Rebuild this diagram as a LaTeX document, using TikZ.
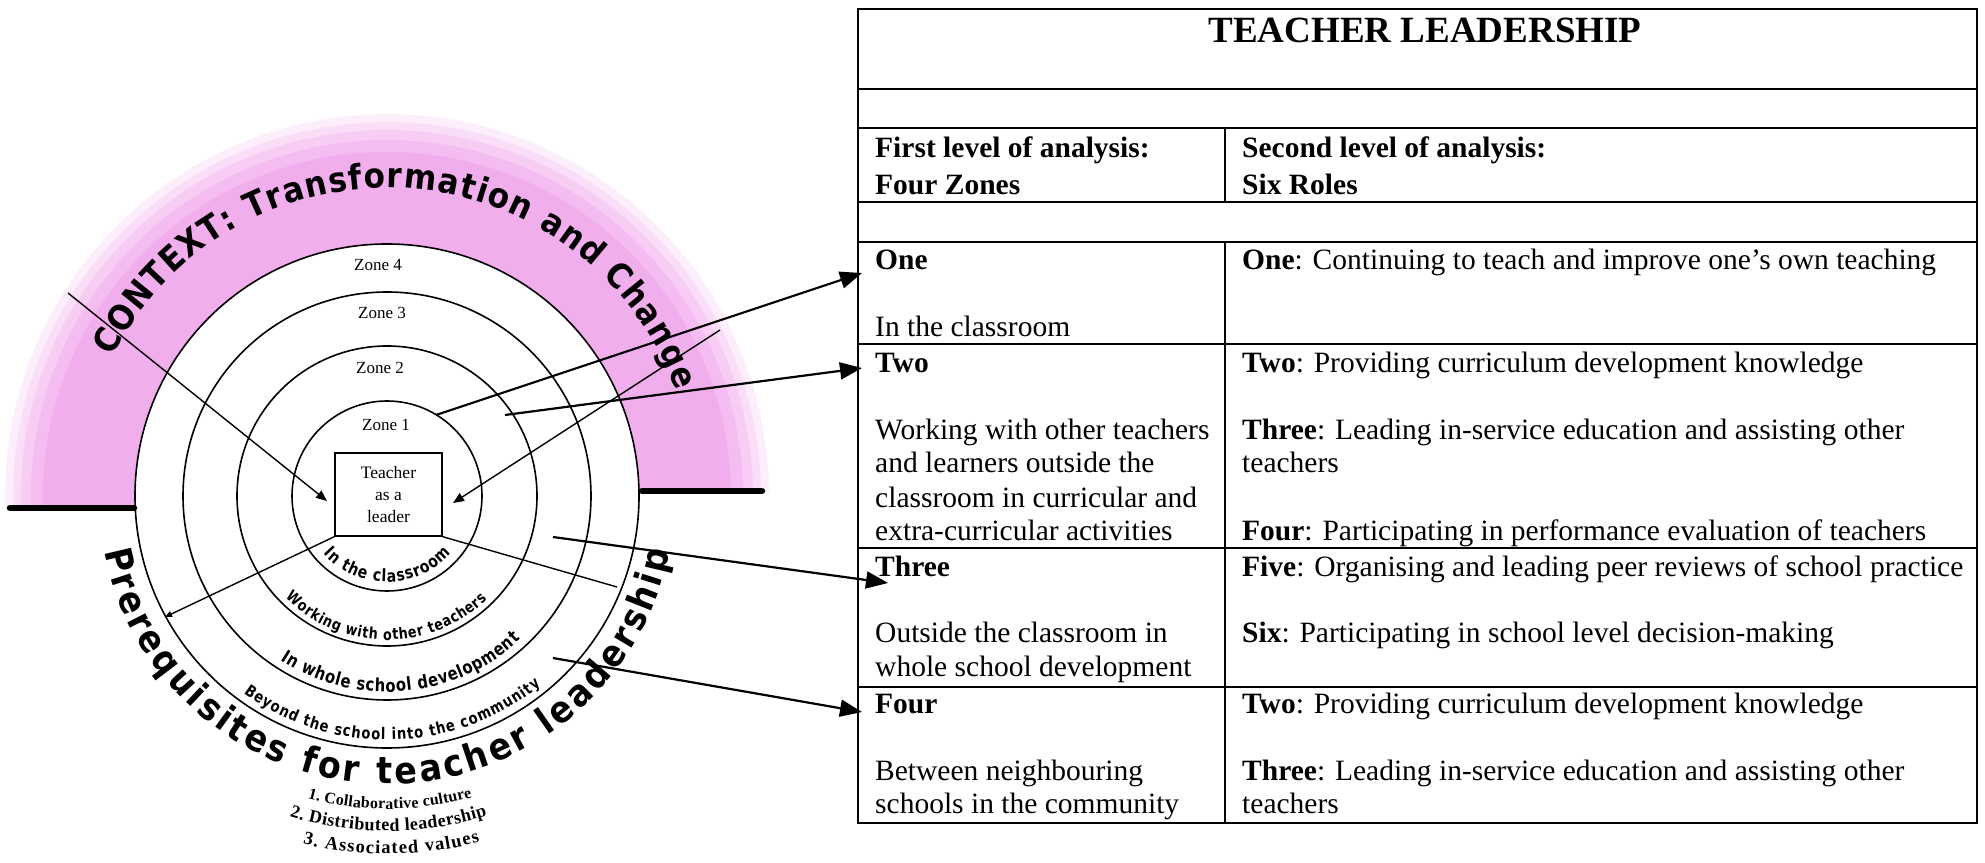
\documentclass[tikz,border=0pt]{standalone}
\usepackage{fontspec}
\setmainfont{Liberation Serif}
\newfontfamily\arcfont{DejaVu Sans}[FakeStretch=0.9]
\newfontfamily\ringfont{DejaVu Sans}[FakeStretch=0.82]
\usetikzlibrary{arrows.meta,decorations.text}
\definecolor{pinkA}{RGB}{253,238,252}
\definecolor{pinkB}{RGB}{250,222,248}
\definecolor{pinkC}{RGB}{247,205,244}
\definecolor{pinkD}{RGB}{244,188,240}
\definecolor{pinkE}{RGB}{241,174,236}
\begin{document}
\begin{tikzpicture}[x=1pt,y=1pt,
  tline/.style={line width=2pt},
  ring/.style={line width=1.6pt},
  bigarrow/.style={line width=2.2pt,-{Triangle[length=22pt,width=17pt]}},
  smallarrow/.style={line width=1.4pt,-{Triangle[length=11pt,width=9pt]}},
  tinyarrow/.style={line width=1.4pt,-{Triangle[length=7pt,width=6pt]}},
  plainline/.style={line width=1.4pt},
  cell/.style={anchor=base west,inner sep=0pt,font=\fontsize{29.5}{34}\selectfont},
  zonelabel/.style={font=\fontsize{17}{20}\selectfont,inner sep=0pt},
  thickbar/.style={line width=6.5pt,line cap=round},
]
\useasboundingbox (0,0) rectangle (1985,862);

% ---------------- table ----------------
\draw[tline] (858,39) rectangle (1977,853);
\foreach \yy in {773,734,660,620,518,314,175}{\draw[tline] (858,\yy) -- (1977,\yy);}
\draw[tline] (1225,734) -- (1225,660);
\draw[tline] (1225,620) -- (1225,39);

\node[anchor=base,inner sep=0pt,font=\bfseries\fontsize{37}{40}\selectfont] (title) at (1425,819) {TEACHER LEADERSHIP};

\node[cell] (l0a) at (875,704) {\textbf{First level of analysis:}};
\node[cell] (l0b) at (875,667) {\textbf{Four Zones}};
\node[cell] (l1a) at (875,592) {\textbf{One}};
\node[cell] (l1b) at (875,525) {In the classroom};
\node[cell] (l2a) at (875,489) {\textbf{Two}};
\node[cell] (l2b) at (875,422) {Working with other teachers};
\node[cell] (l2c) at (875,389) {and learners outside the};
\node[cell] (l2d) at (875,354) {classroom in curricular and};
\node[cell] (l2e) at (875,321) {extra-curricular activities};
\node[cell] (l3a) at (875,285) {\textbf{Three}};
\node[cell] (l3b) at (875,219) {Outside the classroom in};
\node[cell] (l3c) at (875,185) {whole school development};
\node[cell] (l4a) at (875,149) {\textbf{Four}};
\node[cell] (l4b) at (875,82) {Between neighbouring};
\node[cell] (l4c) at (875,49) {schools in the community};

\node[cell] (r0a) at (1242,704) {\textbf{Second level of analysis:}};
\node[cell] (r0b) at (1242,667) {\textbf{Six Roles}};
\node[cell] (r1a) at (1242,592) {\textbf{One}: Continuing to teach and improve one’s own teaching};
\node[cell] (r2a) at (1242,489) {\textbf{Two}: Providing curriculum development knowledge};
\node[cell] (r2b) at (1242,422) {\textbf{Three}: Leading in-service education and assisting other};
\node[cell] (r2c) at (1242,389) {teachers};
\node[cell] (r2d) at (1242,321) {\textbf{Four}: Participating in performance evaluation of teachers};
\node[cell] (r3a) at (1242,285) {\textbf{Five}: Organising and leading peer reviews of school practice};
\node[cell] (r3b) at (1242,219) {\textbf{Six}: Participating in school level decision-making};
\node[cell] (r4a) at (1242,149) {\textbf{Two}: Providing curriculum development knowledge};
\node[cell] (r4b) at (1242,82) {\textbf{Three}: Leading in-service education and assisting other};
\node[cell] (r4c) at (1242,49) {teachers};

% ---------------- circle diagram ----------------
\begin{scope}[shift={(387,366)}]
  \foreach \rr/\cc in {382/pinkA,374/pinkB,366/pinkC,356/pinkD,344/pinkE}{
    \fill[\cc] (1.14:252) arc[start angle=1.14,end angle=182.7,radius=252]
      -- (181.8:\rr) arc[start angle=181.8,end angle=0.76,radius=\rr] -- cycle;
  }
  \draw[thickbar] (-377,-12) -- (-253,-12);
  \draw[thickbar] (255,5) -- (375,5);

  \draw[ring] (0,0) circle[radius=95];
  \draw[ring] (0,0) circle[radius=150];
  \draw[ring] (0,0) circle[radius=204];
  \draw[ring] (0,0) circle[radius=252];

  \node[zonelabel] (z4) at (-9,231) {Zone 4};
  \node[zonelabel] (z3) at (-5,183) {Zone 3};
  \node[zonelabel] (z2) at (-7,128) {Zone 2};
  \node[zonelabel] (z1) at (-1,71) {Zone 1};

  \node[draw,line width=1.4pt,fill=white,minimum width=107pt,minimum height=83pt,inner sep=0pt,
        align=center,font=\fontsize{17.5}{22}\selectfont] (box) at (1.5,1.5) {Teacher\\as a\\leader};

  % curved texts
  \path[decorate,decoration={text along path,text align=fit to path,
     text={|\arcfont\bfseries\fontsize{34.5}{35}\selectfont|CONTEXT: Transformation and Change}}]
     (153:308) arc[start angle=153,end angle=20,radius=308];
  \path[decorate,decoration={text along path,text align=fit to path,
     text={|\arcfont\bfseries\fontsize{37}{37}\selectfont|Prerequisites for teacher leadership}}]
     (191:288) arc[start angle=191,end angle=349,radius=288];
  \path[decorate,decoration={text along path,text align=fit to path,
     text={|\ringfont\bfseries\fontsize{17}{17}\selectfont|In the classroom}}]
     (222:86) arc[start angle=222,end angle=318,radius=86];
  \path[decorate,decoration={text along path,text align=fit to path,
     text={|\ringfont\bfseries\fontsize{15.5}{16}\selectfont|Working with other teachers}}]
     (225:144) arc[start angle=225,end angle=314,radius=144];
  \path[decorate,decoration={text along path,text align=fit to path,
     text={|\ringfont\bfseries\fontsize{18}{18}\selectfont|In whole school development}}]
     (237:196) arc[start angle=237,end angle=313,radius=196];
  \path[decorate,decoration={text along path,text align=fit to path,
     text={|\ringfont\bfseries\fontsize{16}{16}\selectfont|Beyond the school into the community}}]
     (234:244) arc[start angle=234,end angle=309,radius=244];
  \path[decorate,decoration={text along path,text align=fit to path,
     text={|\bfseries\fontsize{16}{16}\selectfont|1. Collaborative culture}}]
     (255.3:313) arc[start angle=255.3,end angle=285.8,radius=313];
  \path[decorate,decoration={text along path,text align=fit to path,
     text={|\bfseries\fontsize{18}{18}\selectfont|2. Distributed leadership}}]
     (253.1:335) arc[start angle=253.1,end angle=287.4,radius=335];
  \path[decorate,decoration={text along path,text align=fit to path,
     text={|\bfseries\fontsize{18.5}{18}\selectfont|3. Associated values}}]
     (256.4:358) arc[start angle=256.4,end angle=285,radius=358];

  % connectors inside the circle diagram
  \coordinate (a1s) at (-319,203);
  \coordinate (a1e) at (-60,-5);
  \coordinate (a2s) at (333,166);
  \coordinate (a2e) at (66,-7);
  \coordinate (a3e) at (-222,-121);
  \coordinate (a4e) at (230,-91);
  \coordinate (b1s) at (49,81);
  \coordinate (b2s) at (118,81);
  \coordinate (b3s) at (166,-41);
  \coordinate (b4s) at (166,-162);
\end{scope}

\coordinate (b1e) at (862,589);
\coordinate (b2e) at (862,494);
\coordinate (b3e) at (888,279);
\coordinate (b4e) at (862,150);

\draw[smallarrow] (a1s) -- (a1e);
\draw[smallarrow] (a2s) -- (a2e);
\draw[tinyarrow] (box.south west) -- (a3e);
\draw[plainline] (box.south east) -- (a4e);
\draw[bigarrow] (b1s) -- (b1e);
\draw[bigarrow] (b2s) -- (b2e);
\draw[bigarrow] (b3s) -- (b3e);
\draw[bigarrow] (b4s) -- (b4e);
\end{tikzpicture}
\end{document}
